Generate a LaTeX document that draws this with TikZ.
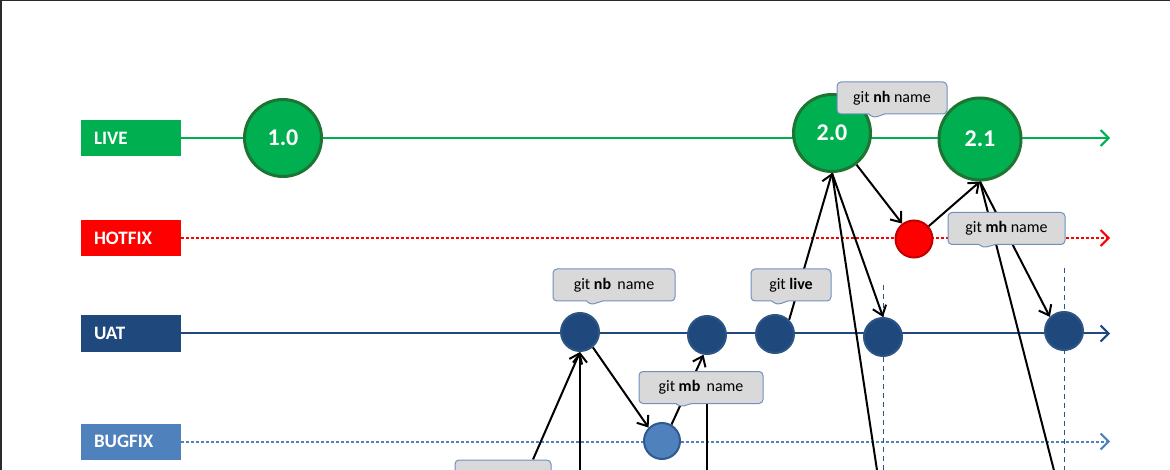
\documentclass[tikz,border=0pt]{standalone}
\usepackage{fontspec}
\setmainfont{Carlito}
\usepackage{tikz}
\usetikzlibrary{arrows.meta,shapes.callouts,backgrounds,positioning}
\definecolor{livegreen}{HTML}{00B050}
\definecolor{livedark}{HTML}{1E7432}
\definecolor{hotred}{HTML}{FF0000}
\definecolor{hotdark}{HTML}{C00000}
\definecolor{uatblue}{HTML}{1F497D}
\definecolor{uatdark}{HTML}{2C5586}
\definecolor{bugblue}{HTML}{4F81BD}
\definecolor{bugdark}{HTML}{2F5A8F}
\definecolor{notegray}{HTML}{D9D9D9}
\definecolor{noteedge}{HTML}{7090BE}
\definecolor{framegray}{HTML}{2B2B2B}
\tikzset{
    lane/.style={rectangle, minimum height=36pt, inner xsep=13pt, text width=74pt, align=left, text=white, font=\bfseries\fontsize{19}{21}\selectfont},
    release/.style={circle, fill=livegreen, draw=livedark, line width=3pt, inner sep=0pt, text=white, font=\bfseries\fontsize{24}{28}\selectfont},
    commit/.style={circle, fill=uatblue, draw=uatdark, line width=2pt, minimum size=38pt, inner sep=0pt},
    hotcommit/.style={circle, fill=hotred, draw=hotdark, line width=2pt, minimum size=37pt, inner sep=0pt},
    bugcommit/.style={circle, fill=bugblue, draw=bugdark, line width=2pt, minimum size=36pt, inner sep=0pt},
    note/.style={rectangle callout, rounded corners=4pt, fill=notegray, draw=noteedge, line width=1pt, minimum height=32pt, callout pointer width=16pt, font=\fontsize{16}{18}\selectfont},
    track/.style={line width=2pt, -{Straight Barb[length=8pt,width=16pt]}},
    dotline/.style={dash pattern=on 2.5pt off 2.5pt},
    guide/.style={draw=uatdark, line width=1pt, dash pattern=on 5pt off 4pt},
    edge/.style={draw, line width=2pt, -{Straight Barb[length=9pt,width=14pt]}},
    link/.style={draw, line width=2pt}
}
\begin{document}
\begin{tikzpicture}[x=1pt,y=-1pt]
\useasboundingbox (0,0) rectangle (1170,470);
\draw[framegray, line width=3pt] (0,470) -- (0,0) -- (1170,0);

% Branch labels
\node[lane, fill=livegreen] (live) at (131,138)   {LIVE};
\node[lane, fill=hotred]    (hotfix) at (131,238) {HOTFIX};
\node[lane, fill=uatblue]   (uat) at (131,333.5)  {UAT};
\node[lane, fill=bugblue]   (bugfix) at (131,441.5) {BUGFIX};
\coordinate (tip) at (1110,0);

% Releases and commits
\node[release, minimum size=77pt] (v10) at (283,138) {1.0};
\node[release, minimum size=77pt] (v20) at (832,133) {2.0};
\node[release, minimum size=82pt] (v21) at (980,139) {2.1};
\node[hotcommit] (h1) at (914,239) {};
\node[commit] (u1) at (580,332)  {};
\node[commit] (u2) at (707,335)  {};
\node[commit] (u3) at (775,334)  {};
\node[commit] (u4) at (883,337)  {};
\node[commit] (u5) at (1064,331) {};
\node[bugcommit] (b1) at (662,441) {};

% Loose ends below the frame
\coordinate (off1) at (580,490);
\coordinate (off2) at (707,490);
\coordinate (off3) at (880,490);
\coordinate (off4) at (1059,490);
\coordinate (g1) at (883,285);
\coordinate (g2) at (1064,268);

\begin{scope}[on background layer]
% Branch lines
\draw[track, livegreen] (live.east) -- (live.east -| tip);
\draw[track, hotred, dotline] (hotfix.east) -- (hotfix.east -| tip);
\draw[track, uatblue] (uat.east) -- (uat.east -| tip);
\draw[track, bugblue, dotline] (bugfix.east) -- (bugfix.east -| tip);

% Guides
\draw[guide] (g1) -- (g1 |- off3);
\draw[guide] (g2) -- (g2 |- off4);

% Merges
\draw[edge] (v20) -- (h1);
\draw[edge] (h1) -- (v21.south);
\draw[edge] (u3.45) -- (v20.south);
\draw[edge] (v20.south) -- (u4.north);
\draw[link] (v20.south) -- (off3);
\draw[edge] (v21.south) -- (u5.135);
\draw[link] (v21.south) -- (off4);
\draw[edge] (u1.-50) -- (b1.135);
\draw[edge] (b1.60) -- (u2.260);
\draw[edge] (off1) -- (u1.south);
\end{scope}

% Commands
\node[note, minimum width=110pt, callout absolute pointer={(873,118)}] (cnh) at (892,98) {git \textbf{nh} name};
\node[note, minimum width=117pt, callout absolute pointer={(983,248)}] (cmh) at (1006.5,228.5) {git \textbf{mh} name};
\node[note, minimum width=122pt, callout absolute pointer={(590,305)}] (cnb) at (614,285) {git \textbf{nb}\, name};
\node[note, minimum width=80pt, callout absolute pointer={(777,305)}] (clive) at (791,285) {git \textbf{live}};
\node[note, minimum width=124pt, callout absolute pointer={(680,407)}] (cmb) at (701,387.5) {git \textbf{mb}\, name};
\node[note, minimum width=96pt, callout absolute pointer={(503,498)}] (cbot) at (503,476) {};

\begin{scope}[on background layer]
\draw[edge] ([xshift=30pt]cbot.north) -- (u1.south);
\draw[link] (u2 |- cmb.south) -- (off2);
\end{scope}
\end{tikzpicture}
\end{document}
